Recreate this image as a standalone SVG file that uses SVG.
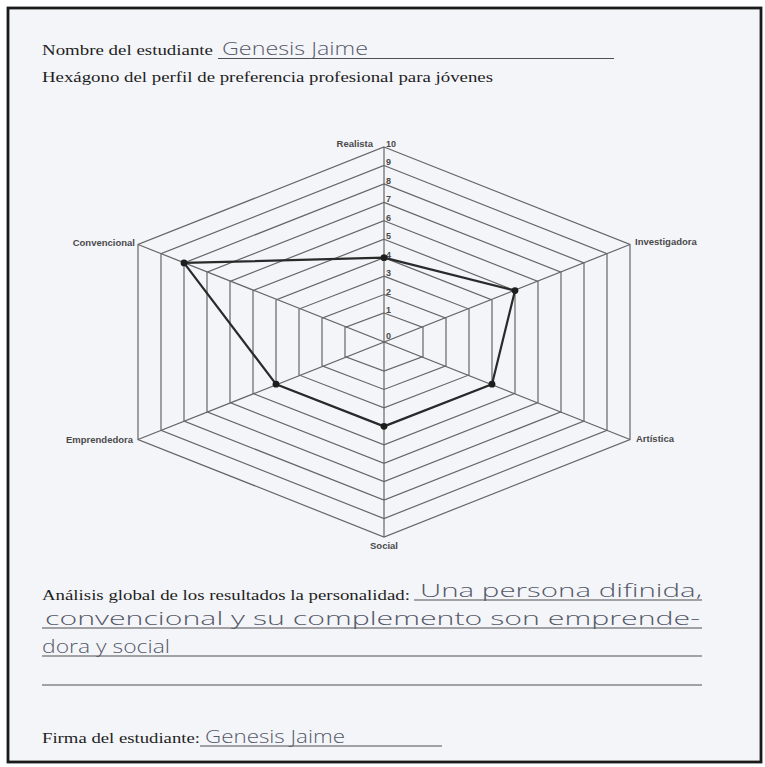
<svg xmlns="http://www.w3.org/2000/svg" width="765" height="767" viewBox="0 0 765 767">
<style>
.serif{font-family:"Liberation Serif","Times New Roman",serif;font-size:14px;fill:#1e1e1e}
.hand{font-family:"Open Sans","DejaVu Sans",sans-serif;font-weight:300;font-size:19px;fill:#555a68}
.ax{font-family:"Liberation Sans",Arial,sans-serif;font-weight:bold;font-size:9.5px;fill:#4a4a4a}
.num{font-family:"Liberation Sans",Arial,sans-serif;font-weight:bold;font-size:9px;fill:#4a4a4a}
.ring{fill:none;stroke:#666;stroke-width:1.2}
.spoke{stroke:#666;stroke-width:1.2}
.uline{stroke:#505050;stroke-width:1.1}
.data{fill:none;stroke:#2a2a2a;stroke-width:2.2;stroke-linejoin:round}
.dot{fill:#1e1e1e}
</style>
<rect x="0" y="0" width="765" height="767" fill="#ffffff"/>
<rect id="page" x="8" y="8" width="753" height="754" fill="#f4f5f9" stroke="#1a1a1a" stroke-width="2.8"/>

<g id="header">
<text class="serif" x="42" y="55" textLength="171" lengthAdjust="spacingAndGlyphs">Nombre del estudiante</text>
<line class="uline" x1="218" y1="58.5" x2="614" y2="58.5"/>
<text class="hand" x="222" y="55" textLength="146" lengthAdjust="spacingAndGlyphs">Genesis  Jaime</text>
<text class="serif" x="42" y="82" textLength="451" lengthAdjust="spacingAndGlyphs">Hexágono del perfil de preferencia profesional para jóvenes</text>
</g>

<g id="chart-grid">
<polygon class="ring" points="384,312.96 423,327.48 423,356.52 384,371.04 345,356.52 345,327.48"/>
<polygon class="ring" points="384,294.52 446,318.26 446,365.74 384,389.48 322,365.74 322,318.26"/>
<polygon class="ring" points="384,276.08 469,309.04 469,374.96 384,407.92 299,374.96 299,309.04"/>
<polygon class="ring" points="384,257.64 492,299.82 492,384.18 384,426.36 276,384.18 276,299.82"/>
<polygon class="ring" points="384,239.2 515,290.6 515,393.4 384,444.8 253,393.4 253,290.6"/>
<polygon class="ring" points="384,220.76 538,281.38 538,402.62 384,463.24 230,402.62 230,281.38"/>
<polygon class="ring" points="384,202.32 561,272.16 561,411.84 384,481.68 207,411.84 207,272.16"/>
<polygon class="ring" points="384,183.88 584,262.94 584,421.06 384,500.12 184,421.06 184,262.94"/>
<polygon class="ring" points="384,165.44 607,253.72 607,430.28 384,518.56 161,430.28 161,253.72"/>
<polygon class="ring" points="384,147 630,244.5 630,439.5 384,537 138,439.5 138,244.5"/>
<line class="spoke" x1="384" y1="147" x2="384" y2="537"/>
<line class="spoke" x1="138" y1="244.5" x2="630" y2="439.5"/>
<line class="spoke" x1="630" y1="244.5" x2="138" y2="439.5"/>
</g>

<g id="scale">
<text class="num" x="386" y="147">10</text>
<text class="num" x="386" y="165">9</text>
<text class="num" x="386" y="184">8</text>
<text class="num" x="386" y="202">7</text>
<text class="num" x="386" y="221">6</text>
<text class="num" x="386" y="239">5</text>
<text class="num" x="386" y="258">4</text>
<text class="num" x="386" y="276">3</text>
<text class="num" x="386" y="295">2</text>
<text class="num" x="386" y="313">1</text>
<text class="num" x="386" y="339">0</text>
</g>

<g id="axis-realista"><text class="ax" x="373" y="147" text-anchor="end">Realista</text></g>
<g id="axis-investigadora"><text class="ax" x="635" y="245">Investigadora</text></g>
<g id="axis-artistica"><text class="ax" x="636" y="442">Artística</text></g>
<g id="axis-social"><text class="ax" x="384" y="549" text-anchor="middle">Social</text></g>
<g id="axis-emprendedora"><text class="ax" x="133" y="443" text-anchor="end">Emprendedora</text></g>
<g id="axis-convencional"><text class="ax" x="135" y="246" text-anchor="end">Convencional</text></g>

<g id="profile">
<polygon class="data" points="384,257.64 515,290.6 492,384.18 384,426.36 276,384.18 184,262.94"/>
<circle class="dot" cx="384" cy="257.64" r="3.4"/>
<circle class="dot" cx="515" cy="290.6" r="3.4"/>
<circle class="dot" cx="492" cy="384.18" r="3.4"/>
<circle class="dot" cx="384" cy="426.36" r="3.4"/>
<circle class="dot" cx="276" cy="384.18" r="3.4"/>
<circle class="dot" cx="184" cy="262.94" r="3.4"/>
</g>

<g id="analysis">
<text class="serif" x="42" y="600" textLength="368" lengthAdjust="spacingAndGlyphs">Análisis global de los resultados la personalidad:</text>
<line class="uline" x1="414" y1="600" x2="702" y2="600"/>
<text class="hand" x="420" y="597" textLength="282" lengthAdjust="spacingAndGlyphs">Una persona difinida,</text>
<line class="uline" x1="42" y1="628" x2="702" y2="628"/>
<text class="hand" x="45" y="625" textLength="655" lengthAdjust="spacingAndGlyphs">convencional y su complemento son emprende-</text>
<line class="uline" x1="42" y1="656" x2="702" y2="656"/>
<text class="hand" x="42" y="653" textLength="128" lengthAdjust="spacingAndGlyphs">dora y social</text>
<line class="uline" x1="42" y1="685" x2="702" y2="685"/>
</g>

<g id="signature">
<text class="serif" x="42" y="743" textLength="158" lengthAdjust="spacingAndGlyphs">Firma del estudiante:</text>
<line class="uline" x1="200" y1="746" x2="442" y2="746"/>
<text class="hand" x="205" y="743" textLength="140" lengthAdjust="spacingAndGlyphs">Genesis  Jaime</text>
</g>
</svg>
